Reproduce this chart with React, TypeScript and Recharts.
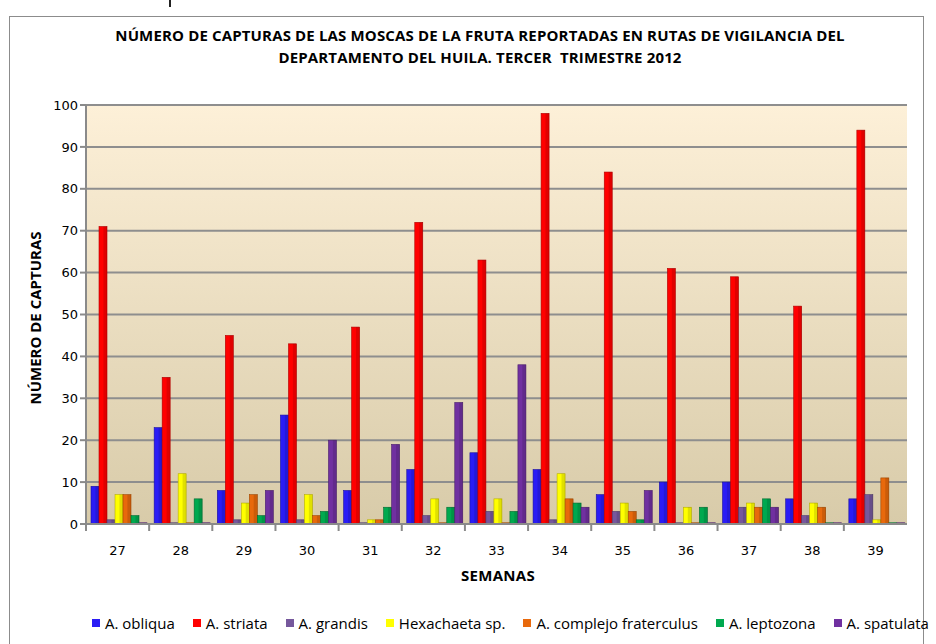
import { BarChart, Bar, XAxis, YAxis, CartesianGrid } from "recharts";

const weeks = ["27", "28", "29", "30", "31", "32", "33", "34", "35", "36", "37", "38", "39"];
const obliqua = [9, 23, 8, 26, 8, 13, 17, 13, 7, 10, 10, 6, 6];
const striata = [71, 35, 45, 43, 47, 72, 63, 98, 84, 61, 59, 52, 94];
const grandis = [1, 0, 1, 1, 0, 2, 3, 1, 3, 0, 4, 2, 7];
const hexachaeta = [7, 12, 5, 7, 1, 6, 6, 12, 5, 4, 5, 5, 1];
const fraterculus = [7, 0, 7, 2, 1, 0, 0, 6, 3, 0, 4, 4, 11];
const leptozona = [2, 6, 2, 3, 4, 4, 3, 5, 1, 4, 6, 0, 0];
const spatulata = [0, 0, 8, 20, 19, 29, 38, 4, 8, 0, 4, 0, 0];
const yTicks = [0, 10, 20, 30, 40, 50, 60, 70, 80, 90, 100];

const series = [
  { key: "obliqua", name: "A. obliqua", values: obliqua, color: "#2a1cf5", edge: "#1a10a0" },
  { key: "striata", name: "A. striata", values: striata, color: "#ff0000", edge: "#b00000" },
  { key: "grandis", name: "A. grandis", values: grandis, color: "#76589c", edge: "#4e3a6a" },
  { key: "hexachaeta", name: "Hexachaeta sp.", values: hexachaeta, color: "#ffff00", edge: "#b8b000" },
  { key: "fraterculus", name: "A. complejo fraterculus", values: fraterculus, color: "#e8690c", edge: "#a04800" },
  { key: "leptozona", name: "A. leptozona", values: leptozona, color: "#00a94f", edge: "#006a30" },
  { key: "spatulata", name: "A. spatulata", values: spatulata, color: "#7030a0", edge: "#4a1e6c" },
];

const data = weeks.map((w, i) => {
  const row: Record<string, string | number> = { week: w };
  series.forEach((s) => (row[s.key] = s.values[i]));
  return row;
});

const PLOT_LEFT = 86;
const PLOT_RIGHT = 907;
const BAND = (PLOT_RIGHT - PLOT_LEFT) / weeks.length;

const makeShape = (color: string, edge: string) => (props: any) => {
  const { x, y, width, height } = props;
  const h = Math.max(height, 1.2);
  const yy = y + height - h;
  return (
    <g>
      <rect x={x} y={yy} width={width} height={h} fill={color} stroke={edge} strokeWidth={0.6} />
      <rect x={x + width * 0.55} y={yy} width={width * 0.45} height={h} fill="#000" opacity={0.12} />
    </g>
  );
};

const WeekTick = (props: any) => {
  const { x, y, payload } = props;
  return (
    <g>
      <line x1={x - BAND / 2} x2={x - BAND / 2} y1={y - 8} y2={y - 1} stroke="#8a8a8a" strokeWidth={2} />
      <text x={x} y={y + 23} textAnchor="middle" fontSize={13} fill="#000" fontFamily="DejaVu Sans">
        {payload.value}
      </text>
    </g>
  );
};

export default function App() {
  return (
    <div style={{ position: "absolute", left: 0, top: 0, width: 936, height: 644, background: "#fff", overflow: "hidden" }}>
      <div style={{ position: "absolute", left: 169, top: 0, width: 2, height: 7, background: "#222" }} />
      <div style={{ position: "absolute", left: 9, top: 16, width: 913, height: 660, border: "1px solid #8c8c8c" }} />
      <div
        style={{
          position: "absolute",
          left: 12,
          width: 936,
          top: 24,
          textAlign: "center",
          fontFamily: "'Open Sans'",
          fontWeight: 700,
          fontSize: 15,
          lineHeight: "22px",
          letterSpacing: 0.15,
          color: "#000",
        }}
      >
        NÚMERO DE CAPTURAS DE LAS MOSCAS DE LA FRUTA REPORTADAS EN RUTAS DE VIGILANCIA DEL
        <br />
        DEPARTAMENTO DEL HUILA. TERCER&nbsp; TRIMESTRE 2012
      </div>
      <div
        style={{
          position: "absolute",
          left: 35,
          top: 318,
          transform: "translate(-50%, -50%) rotate(-90deg)",
          fontFamily: "'Open Sans'",
          fontWeight: 700,
          fontSize: 15,
          whiteSpace: "nowrap",
          letterSpacing: 0,
        }}
      >
        NÚMERO DE CAPTURAS
      </div>
      <div
        style={{
          position: "absolute",
          left: 498,
          top: 575,
          transform: "translate(-50%, -50%)",
          fontFamily: "'Open Sans'",
          fontWeight: 700,
          fontSize: 15,
          letterSpacing: 0.3,
        }}
      >
        SEMANAS
      </div>
      <div style={{ position: "absolute", left: 0, top: 0 }}>
        <BarChart
          width={936}
          height={644}
          data={data}
          margin={{ top: 105, right: 936 - PLOT_RIGHT, left: 16, bottom: 90 }}
          barCategoryGap={5}
          barGap={0}
        >
          <defs>
            <linearGradient id="wall" x1="0" y1="0" x2="0" y2="1">
              <stop offset="0%" stopColor="#fdf0d8" />
              <stop offset="100%" stopColor="#d8cba9" />
            </linearGradient>
          </defs>
          <CartesianGrid vertical={false} fill="url(#wall)" stroke="#8e8e8e" strokeWidth={2} />
          <XAxis
            dataKey="week"
            interval={0}
            axisLine={{ stroke: "#8a8a8a", strokeWidth: 2 }}
            tickLine={false}
            tick={<WeekTick />}
            height={30}
          />
          <YAxis
            domain={[0, 100]}
            ticks={yTicks}
            width={70}
            axisLine={{ stroke: "#8a8a8a", strokeWidth: 2 }}
            tickLine={{ stroke: "#8a8a8a", strokeWidth: 2 }}
            tickSize={6}
            tick={{ fontSize: 13, fill: "#000", fontFamily: "DejaVu Sans" }}
          />
          {series.map((s) => (
            <Bar
              key={s.key}
              dataKey={s.key}
              name={s.name}
              fill={s.color}
              shape={makeShape(s.color, s.edge)}
              isAnimationActive={false}
            />
          ))}
        </BarChart>
      </div>
      <div
        style={{
          position: "absolute",
          left: 92,
          top: 613,
          display: "flex",
          alignItems: "center",
          gap: 18,
          fontFamily: "'Open Sans'",
          fontSize: 15,
          whiteSpace: "nowrap",
          color: "#000",
        }}
      >
        {series.map((s) => (
          <div key={s.key} style={{ display: "flex", alignItems: "center" }}>
            <span style={{ display: "inline-block", width: 8, height: 8, background: s.color, marginRight: 5 }} />
            {s.name}
          </div>
        ))}
      </div>
    </div>
  );
}
